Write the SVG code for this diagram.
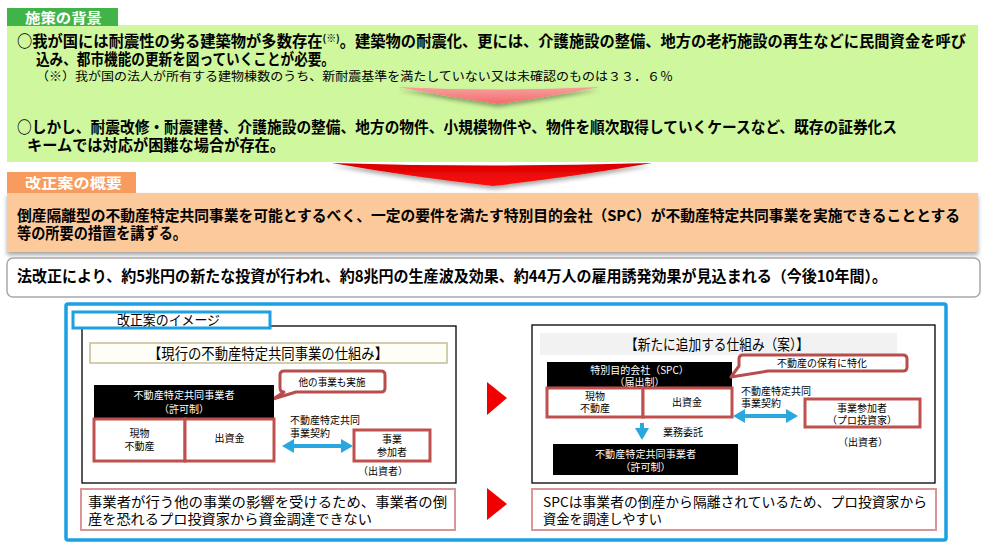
<svg xmlns="http://www.w3.org/2000/svg" width="992" height="548" viewBox="0 0 992 548">
<defs>
<style>
.t{font-family:"Noto Sans CJK JP","Noto Sans",sans-serif;fill:#000}
.b{font-weight:bold}
.s{font-size:10px}
.m{font-size:13.5px}
.w{fill:#fff}
.c{text-anchor:middle}
.rb{fill:#fff;stroke:#C0504D;stroke-width:3}
.blk{fill:#000}
.tb{fill:#fff;stroke:#D99694;stroke-width:2}
.ar{fill:none;stroke:#29A8E0;stroke-width:4}
.tri{fill:#F00000}
</style>
<marker id="ah" viewBox="0 0 12 14" markerUnits="userSpaceOnUse" markerWidth="12" markerHeight="14" refX="6" refY="7" orient="auto-start-reverse">
<path d="M0,0 L12,7 L0,14 Z" fill="#29A8E0"/>
</marker>
<filter id="sh" x="-10%" y="-20%" width="120%" height="160%">
<feDropShadow dx="0" dy="3" stdDeviation="2" flood-color="#000" flood-opacity="0.35"/>
</filter>
<linearGradient id="pk" x1="0" y1="0" x2="0" y2="1">
<stop offset="0" stop-color="#F8A0A0"/>
<stop offset="1" stop-color="#F26B6B"/>
</linearGradient>
<linearGradient id="rd" x1="0" y1="0" x2="0" y2="1">
<stop offset="0" stop-color="#D80000"/>
<stop offset="1" stop-color="#FF1010"/>
</linearGradient>
</defs>

<g id="background-section">
<rect x="7" y="25" width="971" height="137" fill="#CFF79E"/>
<rect x="7" y="8" width="111" height="18" fill="#41B449"/>
<text class="t b w" x="25" y="23" font-size="14" textLength="77" lengthAdjust="spacingAndGlyphs">施策の背景</text>
<text class="t b" x="17" y="47" font-size="15.5" textLength="949" lengthAdjust="spacingAndGlyphs">○我が国には耐震性の劣る建築物が多数存在<tspan font-size="10" dy="-5">(※)</tspan><tspan dy="5">。建築物の耐震化、更には、介護施設の整備、地方の老朽施設の再生などに民間資金を呼び</tspan></text>
<text class="t b" x="36" y="65" font-size="15.5" textLength="299" lengthAdjust="spacingAndGlyphs">込み、都市機能の更新を図っていくことが必要。</text>
<text class="t" x="36" y="81" font-size="12" textLength="637" lengthAdjust="spacingAndGlyphs">（※）我が国の法人が所有する建物棟数のうち、新耐震基準を満たしていない又は未確認のものは３３．６％</text>
<path d="M398,87 Q500,92 600,87 Q548,97 498,104 Q448,97 398,87 Z" fill="url(#pk)" filter="url(#sh)"/>
<text class="t b" x="17" y="133" font-size="15.5" textLength="880" lengthAdjust="spacingAndGlyphs">○しかし、耐震改修・耐震建替、介護施設の整備、地方の物件、小規模物件や、物件を順次取得していくケースなど、既存の証券化ス</text>
<text class="t b" x="27" y="151" font-size="15.5" textLength="258" lengthAdjust="spacingAndGlyphs">キームでは対応が困難な場合が存在。</text>
</g>

<g id="big-arrow">
<path d="M332,163 Q492,168 652,163 Q572,177 493,186 Q412,177 332,163 Z" fill="url(#rd)" filter="url(#sh)"/>
</g>

<g id="summary-section">
<rect x="7" y="193" width="971" height="59" fill="#FCC99B" filter="url(#sh)"/>
<rect x="7" y="172" width="129" height="21" fill="#F79B5E"/>
<text class="t b w" x="25" y="188" font-size="14" textLength="97" lengthAdjust="spacingAndGlyphs">改正案の概要</text>
<text class="t b" x="17" y="221" font-size="15" textLength="943" lengthAdjust="spacingAndGlyphs">倒産隔離型の不動産特定共同事業を可能とするべく、一定の要件を満たす特別目的会社（SPC）が不動産特定共同事業を実施できることとする</text>
<text class="t b" x="17" y="239" font-size="15.5" textLength="170" lengthAdjust="spacingAndGlyphs">等の所要の措置を講ずる。</text>
</g>

<g id="effect-box">
<rect x="7" y="258" width="973" height="39" rx="6" fill="#fff" stroke="#A8A8A8" stroke-width="1.5"/>
<text class="t b" x="17" y="282" font-size="15.5" textLength="870" lengthAdjust="spacingAndGlyphs">法改正により、約5兆円の新たな投資が行われ、約8兆円の生産波及効果、約44万人の雇用誘発効果が見込まれる（今後10年間）。</text>
</g>

<g id="image-frame">
<rect x="66" y="304" width="880" height="236" rx="2" fill="#fff" stroke="#1BA1E2" stroke-width="3.5"/>
</g>

<g id="current-panel">
<rect x="82" y="326" width="374" height="157" fill="#fff" stroke="#000" stroke-width="1.3"/>
<rect x="90" y="343" width="357" height="20" fill="#FEFEF6" stroke="#C4BD97" stroke-width="1.5"/>
<text class="t c" x="268" y="359" font-size="14.5" textLength="240" lengthAdjust="spacingAndGlyphs">【現行の不動産特定共同事業の仕組み】</text>
</g>

<g id="image-label">
<rect x="73" y="312" width="197" height="16" fill="#fff" stroke="#1BA1E2" stroke-width="3"/>
<text class="t" x="117" y="325" font-size="13.5" textLength="103" lengthAdjust="spacingAndGlyphs">改正案のイメージ</text>
</g>

<g id="callout-other">
<path d="M284,371 H381 Q385,371 385,375 V388 Q385,392 381,392 H296 L273,399 L284,392 Q280,392 280,388 V375 Q280,371 284,371 Z" fill="#fff" stroke="#B84E4C" stroke-width="3" stroke-linejoin="round"/>
<text class="t s c" x="332" y="386" textLength="67" lengthAdjust="spacingAndGlyphs">他の事業も実施</text>
</g>

<g id="operator-current">
<rect class="blk" x="94" y="385" width="180" height="34"/>
<text class="t s w c" x="184" y="399" textLength="101" lengthAdjust="spacingAndGlyphs">不動産特定共同事業者</text>
<text class="t s w c" x="184" y="413">（許可制）</text>
</g>

<g id="property-current">
<rect class="rb" x="94" y="419" width="91" height="42"/>
<text class="t s c" x="139.5" y="437">現物</text>
<text class="t s c" x="139.5" y="450">不動産</text>
</g>

<g id="capital-current">
<rect class="rb" x="185" y="419" width="89" height="42"/>
<text class="t s c" x="229.5" y="442">出資金</text>
</g>

<g id="contract-label-current">
<text class="t s" x="290" y="424">不動産特定共同</text>
<text class="t s" x="290" y="437">事業契約</text>
</g>

<g id="participant-current">
<rect class="rb" x="354" y="430" width="76" height="31"/>
<text class="t s c" x="392" y="443">事業</text>
<text class="t s c" x="392" y="456">参加者</text>
<text class="t s c" x="383" y="475">（出資者）</text>
</g>

<g id="arrow-mid">
<polygon class="tri" points="487,382 507,398 487,415"/>
</g>

<g id="new-panel">
<rect x="532" y="325" width="403" height="158" fill="#fff" stroke="#000" stroke-width="1.3"/>
<rect x="540" y="333" width="357" height="22" fill="#F2F2F2"/>
<text class="t c" x="717" y="350" font-size="14.5" textLength="184" lengthAdjust="spacingAndGlyphs">【新たに追加する仕組み（案）】</text>
</g>

<g id="spc">
<rect class="blk" x="547" y="362" width="185" height="26"/>
<text class="t s w c" x="639.5" y="374">特別目的会社（SPC）</text>
<text class="t s w c" x="639.5" y="386">（届出制）</text>
</g>

<g id="callout-spc">
<path d="M743,355 H903 Q907,355 907,359 V367 Q907,371 903,371 H768 L731,377 L739,366 V359 Q739,355 743,355 Z" fill="#fff" stroke="#B84E4C" stroke-width="3" stroke-linejoin="round"/>
<text class="t s c" x="822" y="367">不動産の保有に特化</text>
</g>

<g id="property-new">
<rect class="rb" x="547" y="388" width="96" height="29"/>
<text class="t s c" x="595" y="400">現物</text>
<text class="t s c" x="595" y="412">不動産</text>
</g>

<g id="capital-new">
<rect class="rb" x="643" y="388" width="89" height="29"/>
<text class="t s c" x="687" y="406">出資金</text>
</g>

<g id="contract-label-new">
<text class="t s" x="741" y="395">不動産特定共同</text>
<text class="t s" x="741" y="407">事業契約</text>
</g>

<g id="participant-new">
<rect class="rb" x="805" y="399" width="115" height="28"/>
<text class="t s c" x="862" y="412">事業参加者</text>
<text class="t s c" x="862" y="424">（プロ投資家）</text>
<text class="t s c" x="863" y="446">（出資者）</text>
</g>

<g id="delegation-label">
<text class="t s" x="663" y="436">業務委託</text>
</g>

<g id="operator-new">
<rect class="blk" x="553" y="444" width="185" height="31"/>
<text class="t s w c" x="645.5" y="458" textLength="101" lengthAdjust="spacingAndGlyphs">不動産特定共同事業者</text>
<text class="t s w c" x="645.5" y="471">（許可制）</text>
</g>

<g id="connectors">
<line class="ar" x1="288" y1="446" x2="347" y2="446" marker-start="url(#ah)" marker-end="url(#ah)"/>
<line class="ar" x1="739" y1="416" x2="792" y2="416" marker-start="url(#ah)" marker-end="url(#ah)"/>
<line class="ar" x1="642" y1="423" x2="642" y2="434" marker-end="url(#ah)"/>
</g>

<g id="note-current">
<rect class="tb" x="81" y="489" width="374" height="41"/>
<text class="t m" x="88" y="507" textLength="359" lengthAdjust="spacingAndGlyphs">事業者が行う他の事業の影響を受けるため、事業者の倒</text>
<text class="t m" x="88" y="524" textLength="284" lengthAdjust="spacingAndGlyphs">産を恐れるプロ投資家から資金調達できない</text>
</g>

<g id="arrow-bottom">
<polygon class="tri" points="487,488 507,504 487,520"/>
</g>

<g id="note-new">
<rect class="tb" x="532" y="489" width="404" height="41"/>
<text class="t m" x="543" y="507" textLength="384" lengthAdjust="spacingAndGlyphs">SPCは事業者の倒産から隔離されているため、プロ投資家から</text>
<text class="t m" x="543" y="524" textLength="119" lengthAdjust="spacingAndGlyphs">資金を調達しやすい</text>
</g>
</svg>
